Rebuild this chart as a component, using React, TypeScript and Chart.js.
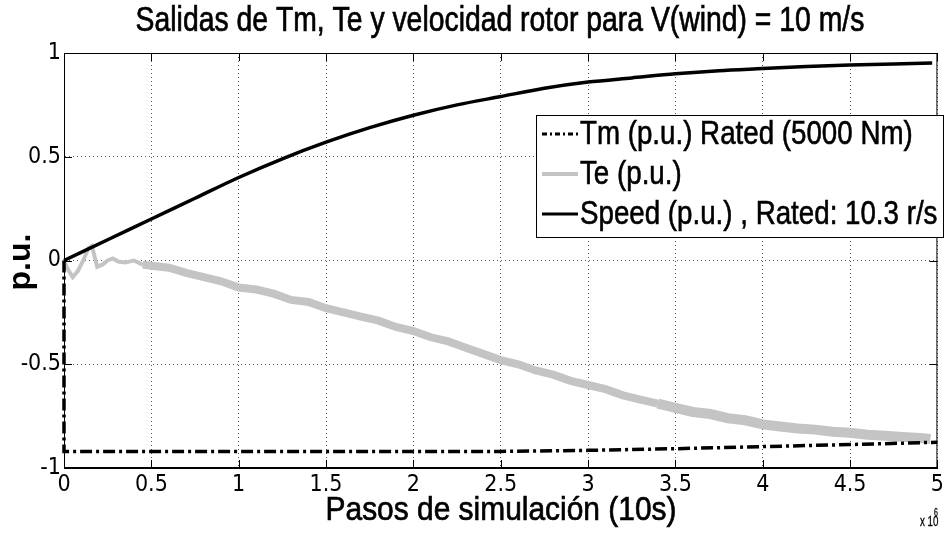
import { useEffect, useRef } from "react";
import { Chart, registerables } from "chart.js";

Chart.register(...registerables);

const TITLE = "Salidas de Tm, Te y velocidad rotor para V(wind) = 10 m/s";
const X_TITLE = "Pasos de simulación (10s)";
const Y_TITLE = "p.u.";
const X_EXP_BASE = "x 10";
const X_EXP_POWER = "6";

const X_TICKS = [0, 0.5, 1, 1.5, 2, 2.5, 3, 3.5, 4, 4.5, 5];
const Y_TICKS = [-1, -0.5, 0, 0.5, 1];

const SERIES_LABELS = [
  "Tm (p.u.) Rated (5000 Nm)",
  "Te (p.u.)",
  "Speed (p.u.) , Rated: 10.3 r/s",
];

const TM_X = [0, 0, 2.5, 3.0, 3.5, 4.0, 4.5, 5.0];
const TM_Y = [0, -0.92, -0.92, -0.915, -0.907, -0.897, -0.887, -0.876];

const TE_X = [
  0, 0.02, 0.05, 0.08, 0.11, 0.14, 0.16, 0.19, 0.22, 0.25, 0.28, 0.31, 0.35, 0.4, 0.45, 0.5,
  0.6, 0.7, 0.8, 0.9, 1.0, 1.1, 1.2, 1.3, 1.4, 1.5, 1.6, 1.7, 1.8, 1.9, 2.0, 2.1, 2.2, 2.3,
  2.4, 2.5, 2.6, 2.7, 2.8, 2.9, 3.0, 3.1, 3.2, 3.3, 3.4, 3.5, 3.6, 3.7, 3.8, 3.9, 4.0, 4.1,
  4.2, 4.3, 4.4, 4.5, 4.6, 4.7, 4.8, 4.9, 4.96,
];
const TE_Y = [
  0, -0.04, -0.08, -0.05, 0.0, 0.06, 0.07, -0.03, -0.02, 0.0, 0.01, -0.005, -0.01, 0.0, -0.02,
  -0.025, -0.035, -0.06, -0.08, -0.1, -0.13, -0.14, -0.16, -0.19, -0.2, -0.23, -0.25, -0.27,
  -0.29, -0.32, -0.34, -0.37, -0.39, -0.42, -0.45, -0.48, -0.5, -0.53, -0.55, -0.58, -0.6,
  -0.62, -0.65, -0.67, -0.69, -0.71, -0.73, -0.74, -0.76, -0.77, -0.79, -0.8, -0.81, -0.815,
  -0.825, -0.83, -0.84, -0.845, -0.85, -0.855, -0.86,
];

const SPEED_X = [
  0, 0.25, 0.5, 0.75, 1.0, 1.25, 1.5, 1.75, 2.0, 2.25, 2.5, 2.75, 3.0, 3.25, 3.5, 3.75, 4.0,
  4.25, 4.5, 4.75, 4.97,
];
const SPEED_Y = [
  0, 0.1, 0.2, 0.3, 0.4, 0.49, 0.57, 0.64, 0.7, 0.75, 0.79, 0.83, 0.86, 0.88, 0.9, 0.915,
  0.925, 0.935, 0.942, 0.947, 0.952,
];

const FONT = "'Liberation Sans', Arial, sans-serif";

function pts(xs: number[], ys: number[]) {
  return xs.map((x, i) => ({ x, y: ys[i] }));
}

function squeezedText(
  ctx: CanvasRenderingContext2D,
  text: string,
  x: number,
  y: number,
  font: string,
  align: CanvasTextAlign,
  sx: number,
  stroke = 0
) {
  ctx.save();
  ctx.translate(x, y);
  ctx.scale(sx, 1);
  ctx.font = font;
  ctx.textAlign = align;
  ctx.textBaseline = "middle";
  ctx.fillStyle = "#000";
  ctx.fillText(text, 0, 0);
  if (stroke > 0) {
    ctx.strokeStyle = "#000";
    ctx.lineWidth = stroke;
    ctx.setLineDash([]);
    ctx.strokeText(text, 0, 0);
  }
  ctx.restore();
}

const decorPlugin = {
  id: "matlabDecor",
  afterDatasetsDraw(chart: any) {
    const ctx: CanvasRenderingContext2D = chart.ctx;
    const { left, right, top, bottom } = chart.chartArea;
    const xs = chart.scales.x;
    const ys = chart.scales.y;
    ctx.save();
    ctx.strokeStyle = "#000";
    ctx.lineWidth = 1;
    ctx.setLineDash([]);
    ctx.strokeRect(left + 0.5, top + 0.5, right - left - 1, bottom - top - 1);
    ctx.beginPath();
    X_TICKS.forEach((t) => {
      const px = Math.round(xs.getPixelForValue(t)) + 0.5;
      ctx.moveTo(px, bottom);
      ctx.lineTo(px, bottom - 8);
      ctx.moveTo(px, top);
      ctx.lineTo(px, top + 8);
    });
    Y_TICKS.forEach((t) => {
      const py = Math.round(ys.getPixelForValue(t)) + 0.5;
      ctx.moveTo(left, py);
      ctx.lineTo(left + 8, py);
      ctx.moveTo(right, py);
      ctx.lineTo(right - 8, py);
    });
    ctx.stroke();

    // legend
    const lx = 536, ly = 115, lw = 407, lh = 122;
    ctx.fillStyle = "#fff";
    ctx.fillRect(lx, ly, lw, lh);
    ctx.strokeStyle = "#000";
    ctx.lineWidth = 1;
    ctx.strokeRect(lx + 0.5, ly + 0.5, lw, lh);
    const dsets = chart.data.datasets;
    [0, 1, 2].forEach((i) => {
      const ds = dsets[i];
      const cy = ly + 19 + i * 40;
      ctx.save();
      ctx.strokeStyle = ds.borderColor;
      ctx.lineWidth = i === 1 ? 4 : 3;
      ctx.setLineDash(i === 0 ? [5, 3, 2, 3] : []);
      ctx.beginPath();
      ctx.moveTo(542, cy);
      ctx.lineTo(578, cy);
      ctx.stroke();
      ctx.restore();
      squeezedText(ctx, ds.label, 580, cy + 1, `33px ${FONT}`, "left", 0.84, 0.6);
    });
    ctx.restore();
  },
  afterDraw(chart: any) {
    const ctx: CanvasRenderingContext2D = chart.ctx;
    squeezedText(ctx, TITLE, 500, 21, `35px ${FONT}`, "center", 0.81, 0.7);
    squeezedText(ctx, X_TITLE, 501, 511, `34px ${FONT}`, "center", 0.88, 0.7);
    squeezedText(ctx, X_EXP_BASE, 920, 522, `14px ${FONT}`, "left", 0.7, 0.3);
    squeezedText(ctx, X_EXP_POWER, 934, 513, `10px ${FONT}`, "left", 0.7, 0.3);
    ctx.save();
    ctx.translate(21, 262);
    ctx.rotate(-Math.PI / 2);
    ctx.font = `bold 32px ${FONT}`;
    ctx.textAlign = "center";
    ctx.textBaseline = "middle";
    ctx.fillStyle = "#000";
    ctx.fillText(Y_TITLE, 0, 0);
    ctx.restore();
  },
};

export default function App() {
  const ref = useRef<HTMLCanvasElement | null>(null);
  useEffect(() => {
    if (!ref.current) return;
    const tickFont = { family: "'Liberation Sans Narrow', 'DejaVu Sans Condensed', " + FONT, size: 23 };
    const chart = new Chart(ref.current, {
      type: "line",
      data: {
        datasets: [
          {
            label: SERIES_LABELS[0],
            data: pts(TM_X, TM_Y),
            borderColor: "#000",
            borderWidth: 3.5,
            borderDash: [12, 4, 3, 4],
            pointRadius: 0,
            tension: 0,
            order: 1,
            clip: 6,
          },
          {
            label: SERIES_LABELS[1],
            data: pts(TE_X, TE_Y),
            borderColor: "#c4c4c4",
            borderWidth: 7,
            pointRadius: 0,
            tension: 0,
            order: 2,
            clip: 6,
            segment: {
              borderWidth: (c: any) => (c.p0.parsed.x < 0.45 ? 4 : c.p0.parsed.x > 3.3 ? 10 : 8),
            },
          } as any,
          {
            label: SERIES_LABELS[2],
            data: pts(SPEED_X, SPEED_Y),
            borderColor: "#000",
            borderWidth: 3.5,
            pointRadius: 0,
            tension: 0.3,
            order: 0,
            clip: 6,
          },
        ],
      },
      options: {
        animation: false,
        responsive: false,
        devicePixelRatio: 1,
        layout: { padding: { top: 53, right: 4, left: 0, bottom: 0 } },
        plugins: { legend: { display: false }, title: { display: false }, tooltip: { enabled: false } },
        scales: {
          x: {
            type: "linear",
            min: 0,
            max: 5,
            afterBuildTicks: (s: any) => {
              s.ticks = X_TICKS.map((v) => ({ value: v }));
            },
            afterFit: (s: any) => {
              s.height = 68;
            },
            ticks: {
              font: tickFont,
              color: "#000",
              padding: 3,
              maxRotation: 0,
              autoSkip: false,
              callback: (v: any) => String(v),
            },
            grid: { color: "#555", lineWidth: 1, drawTicks: false },
            border: { display: true, color: "#000", dash: [1, 3] },
          },
          y: {
            type: "linear",
            min: -1,
            max: 1,
            afterBuildTicks: (s: any) => {
              s.ticks = Y_TICKS.map((v) => ({ value: v }));
            },
            afterFit: (s: any) => {
              s.width = 64;
            },
            ticks: {
              font: tickFont,
              color: "#000",
              padding: 3,
              autoSkip: false,
              callback: (v: any) => String(v),
            },
            grid: { color: "#555", lineWidth: 1, drawTicks: false },
            border: { display: true, color: "#000", dash: [1, 3] },
          },
        },
      },
      plugins: [decorPlugin],
    });
    return () => chart.destroy();
  }, []);
  return (
    <div style={{ position: "absolute", left: 0, top: 0, width: 947, height: 536, background: "#fff" }}>
      <canvas ref={ref} width={947} height={536} />
    </div>
  );
}
